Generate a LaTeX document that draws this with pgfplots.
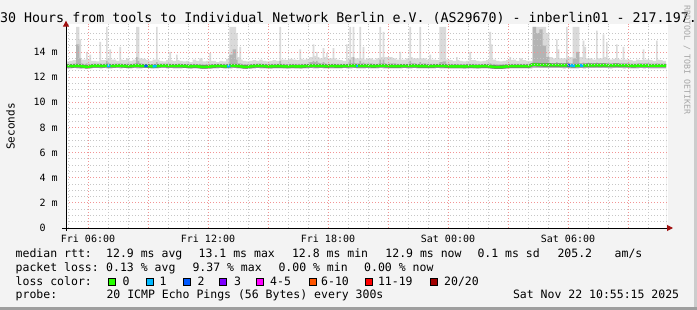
\documentclass[border=0pt]{standalone}
\usepackage{pgfplots}
\pgfplotsset{compat=1.18}
\usepackage{pgfplotstable}
\usetikzlibrary{arrows.meta}
\usepackage{fontspec}
\newfontfamily\mono{DejaVu Sans Mono}
\newcommand\titlefont{\mono\fontsize{13.3bp}{15bp}\selectfont}
\newcommand\legfont{\mono\fontsize{11.5bp}{13bp}\selectfont}
\newcommand\axfont{\mono\fontsize{10bp}{12bp}\selectfont}
\definecolor{bgc}{HTML}{F3F3F3}
\definecolor{gridred}{HTML}{F29494}
\definecolor{gridgray}{HTML}{C6C6C6}
\definecolor{arrowred}{HTML}{A01010}
\definecolor{smokeL}{HTML}{DADADA}
\definecolor{smokeM}{HTML}{B4B4B4}
\definecolor{halo}{HTML}{7A7A7A}
\definecolor{loss0}{HTML}{26FF00}
\definecolor{loss1}{HTML}{00B8FF}
\definecolor{loss2}{HTML}{0059FF}
\definecolor{loss3}{HTML}{7E00FF}
\definecolor{loss4}{HTML}{FF00FF}
\definecolor{loss6}{HTML}{FF5500}
\definecolor{loss11}{HTML}{FF0000}
\definecolor{loss20}{HTML}{A10000}

\pgfplotstableread{
x lo hi h2 md
0 12.70 13.25 13.06 12.89
10 12.69 13.30 13.05 12.90
20 12.71 13.35 13.08 12.88
30 12.70 16.00 14.60 12.91
40 12.68 15.00 13.50 12.90
45 12.68 13.40 13.10 12.88
50 12.72 13.40 13.05 12.86
60 12.70 14.00 13.10 12.82
65 12.70 13.40 13.05 12.83
70 12.69 13.80 13.06 12.84
75 12.69 13.30 13.05 12.87
80 12.71 13.30 13.05 12.90
90 12.72 13.25 13.04 12.91
100 12.70 14.80 13.10 12.90
105 12.70 13.35 13.05 12.90
110 12.71 13.35 13.06 12.89
120 12.69 16.00 13.30 12.92
125 12.69 13.50 13.10 12.91
130 12.70 14.20 13.08 12.90
135 12.70 13.40 13.05 12.90
140 12.72 13.40 13.05 12.89
150 12.71 13.30 13.06 12.91
160 12.70 14.40 13.08 12.92
165 12.70 13.40 13.05 12.91
170 12.72 13.35 13.05 12.90
180 12.70 13.50 13.07 12.88
190 12.69 13.30 13.05 12.87
200 12.71 13.40 13.06 12.90
210 12.70 16.00 13.60 12.93
215 12.70 16.00 13.30 12.92
220 12.70 13.50 13.10 12.91
230 12.71 13.45 13.06 12.89
240 12.72 13.35 13.05 12.90
250 12.70 13.30 13.04 12.88
260 12.69 13.40 13.06 12.86
270 12.70 16.00 13.20 12.88
275 12.70 13.40 13.05 12.89
280 12.71 13.30 13.05 12.90
290 12.72 13.25 13.05 12.92
300 12.70 13.35 13.06 12.91
310 12.71 14.00 13.08 12.90
315 12.71 13.35 13.05 12.90
320 12.70 13.30 13.05 12.89
330 12.69 13.80 13.06 12.90
335 12.69 13.35 13.05 12.90
340 12.70 13.30 13.05 12.91
350 12.71 13.25 13.04 12.89
360 12.70 13.30 13.05 12.88
370 12.68 13.20 13.03 12.86
380 12.69 13.40 13.05 12.87
390 12.70 13.30 13.04 12.88
400 12.68 13.50 13.05 12.84
410 12.66 13.25 13.02 12.81
420 12.67 13.30 13.03 12.82
430 12.68 13.90 13.05 12.84
435 12.68 13.30 13.04 12.85
440 12.69 13.30 13.04 12.87
450 12.70 13.20 13.05 12.89
460 12.71 13.30 13.06 12.90
470 12.70 13.25 13.05 12.88
480 12.69 13.45 13.06 12.86
490 12.70 16.00 13.80 12.90
500 12.71 16.00 14.20 12.92
510 12.70 15.50 13.40 12.90
515 12.70 13.60 13.10 12.89
520 12.69 14.40 13.10 12.88
525 12.69 13.40 13.05 12.86
530 12.67 13.30 13.04 12.83
540 12.66 13.25 13.03 12.81
550 12.68 13.30 13.04 12.84
560 12.70 13.35 13.05 12.88
570 12.71 13.30 13.06 12.90
580 12.70 13.40 13.06 12.91
590 12.70 13.30 13.05 12.90
600 12.69 13.25 13.04 12.87
610 12.68 13.30 13.05 12.86
620 12.69 13.35 13.05 12.87
630 12.70 13.30 13.06 12.88
640 12.70 16.00 13.30 12.89
645 12.70 13.40 13.06 12.88
650 12.69 13.40 13.05 12.87
660 12.68 13.35 13.04 12.85
670 12.69 13.45 13.05 12.86
680 12.70 13.40 13.06 12.88
690 12.69 13.35 13.05 12.86
700 12.68 14.20 13.06 12.85
705 12.68 13.45 13.05 12.86
710 12.69 13.40 13.05 12.87
720 12.70 13.45 13.06 12.89
730 12.71 13.60 13.20 12.90
740 12.70 14.60 13.30 12.91
745 12.70 13.70 13.20 12.91
750 12.70 14.00 13.30 12.90
755 12.70 13.60 13.15 12.90
760 12.71 13.50 13.10 12.91
770 12.70 14.30 13.20 12.89
775 12.70 13.60 13.10 12.89
780 12.69 13.90 13.06 12.88
785 12.69 13.50 13.05 12.88
790 12.70 13.50 13.06 12.89
800 12.70 14.30 13.08 12.90
805 12.70 13.50 13.06 12.89
810 12.69 13.40 13.05 12.88
820 12.70 13.35 13.05 12.87
830 12.71 13.30 13.05 12.89
840 12.70 14.60 13.06 12.90
845 12.70 13.40 13.06 12.90
850 12.70 16.00 13.40 12.91
855 12.70 13.60 13.10 12.91
860 12.71 16.00 13.60 12.92
865 12.71 13.50 13.10 12.91
870 12.70 13.50 13.10 12.90
880 12.69 16.00 13.30 12.89
885 12.69 13.50 13.10 12.89
890 12.70 14.40 13.15 12.90
895 12.70 13.40 13.05 12.90
900 12.71 13.50 13.06 12.91
910 12.70 13.50 13.10 12.90
920 12.69 13.40 13.05 12.88
930 12.70 13.50 13.06 12.89
940 12.71 16.00 13.40 12.91
945 12.71 13.60 13.10 12.91
950 12.70 15.60 13.40 12.92
955 12.70 13.60 13.10 12.91
960 12.69 13.60 13.06 12.90
970 12.70 13.60 13.10 12.89
980 12.70 13.50 13.10 12.88
990 12.69 13.40 13.05 12.87
1000 12.70 14.00 13.06 12.88
1005 12.70 13.40 13.05 12.89
1010 12.71 13.40 13.05 12.90
1020 12.70 13.50 13.06 12.89
1030 12.70 16.00 13.30 12.90
1035 12.70 13.60 13.10 12.90
1040 12.71 13.50 13.10 12.91
1050 12.70 13.50 13.06 12.90
1060 12.69 16.00 13.20 12.88
1065 12.69 13.50 13.05 12.88
1070 12.70 13.50 13.10 12.89
1080 12.70 13.40 13.05 12.88
1090 12.69 13.80 13.06 12.87
1095 12.69 13.40 13.05 12.87
1100 12.70 13.40 13.05 12.88
1110 12.71 13.35 13.05 12.90
1120 12.70 16.00 13.20 12.89
1130 12.70 16.00 13.25 12.90
1140 12.69 13.40 13.05 12.88
1150 12.70 13.35 13.05 12.87
1160 12.69 13.30 13.04 12.86
1170 12.70 13.60 13.05 12.87
1175 12.70 13.35 13.04 12.86
1180 12.69 13.30 13.04 12.86
1190 12.68 13.25 13.04 12.85
1200 12.69 13.30 13.05 12.86
1210 12.70 14.00 13.06 12.88
1215 12.70 13.35 13.05 12.88
1220 12.69 13.35 13.05 12.87
1230 12.68 13.30 13.04 12.85
1240 12.69 13.25 13.04 12.86
1250 12.70 13.30 13.05 12.88
1260 12.70 13.35 13.05 12.89
1270 12.68 15.60 13.10 12.86
1275 12.68 14.60 13.05 12.84
1280 12.66 13.40 13.05 12.82
1290 12.65 13.30 13.02 12.80
1300 12.65 13.25 13.02 12.80
1310 12.66 13.30 13.03 12.81
1320 12.68 13.35 13.04 12.85
1330 12.69 13.60 13.05 12.87
1335 12.69 13.35 13.05 12.87
1340 12.70 13.40 13.05 12.88
1350 12.69 13.30 13.05 12.87
1360 12.70 13.50 13.06 12.88
1370 12.69 13.35 13.05 12.87
1380 12.70 13.30 13.05 12.88
1390 12.70 13.30 13.05 12.88
1400 12.74 16.00 16.00 13.00
1410 12.73 16.00 15.50 12.99
1420 12.72 16.00 15.80 12.98
1430 12.72 16.00 14.50 12.97
1440 12.71 15.50 13.60 12.96
1450 12.72 13.60 13.10 12.97
1460 12.71 13.50 13.08 12.95
1470 12.72 15.00 13.20 12.96
1475 12.72 14.20 13.10 12.96
1480 12.71 13.50 13.10 12.95
1490 12.70 13.50 13.08 12.94
1500 12.71 16.00 13.40 12.95
1505 12.71 13.60 13.10 12.94
1510 12.70 13.60 13.10 12.92
1520 12.69 16.00 13.50 12.90
1530 12.70 16.00 14.00 12.91
1540 12.71 13.60 13.08 12.93
1550 12.70 14.90 13.15 12.92
1555 12.70 14.40 13.10 12.93
1560 12.71 13.50 13.10 12.94
1570 12.72 13.50 13.08 12.95
1580 12.71 13.40 13.06 12.94
1590 12.72 15.70 13.15 12.95
1595 12.72 13.50 13.07 12.95
1600 12.71 13.50 13.07 12.94
1610 12.72 15.40 13.12 12.95
1615 12.72 13.60 13.08 12.95
1620 12.71 14.80 13.10 12.94
1625 12.71 13.50 13.06 12.94
1630 12.70 13.40 13.06 12.93
1640 12.71 13.45 13.07 12.94
1650 12.72 14.60 13.10 12.95
1655 12.72 13.45 13.06 12.95
1660 12.71 13.40 13.06 12.94
1670 12.70 14.40 13.08 12.93
1675 12.70 13.40 13.06 12.93
1680 12.71 13.40 13.06 12.94
1690 12.70 13.35 13.05 12.92
1700 12.69 13.30 13.05 12.90
1710 12.70 13.40 13.06 12.91
1720 12.71 13.35 13.06 12.93
1730 12.70 14.20 13.08 12.92
1735 12.70 13.40 13.06 12.92
1740 12.71 13.40 13.06 12.93
1750 12.70 13.35 13.05 12.92
1760 12.69 13.30 13.05 12.91
1770 12.70 14.90 13.10 12.92
1775 12.70 13.40 13.05 12.92
1780 12.70 13.35 13.05 12.91
1790 12.70 13.30 13.05 12.92
1800 12.70 13.30 13.05 12.92
}\smoke

\begin{document}
\begin{tikzpicture}
\useasboundingbox (0,0) rectangle (697bp,310bp);
\fill[bgc] (0,0) rectangle (697bp,310bp);
\begin{axis}[
  at={(66bp,82bp)}, anchor=south west,
  scale only axis, width=602bp, height=204.3bp,
  xmin=0, xmax=1806, ymin=0, ymax=16.25,
  axis background/.style={fill=white},
  axis on top,
  axis x line=bottom, axis y line=left,
  axis line style={black, line width=1bp},
  x axis line style={-{Triangle[length=6bp,width=6bp,color=arrowred]}, shorten >=-5bp, shorten <=-4bp},
  y axis line style={-{Triangle[length=6bp,width=6bp,color=arrowred]}, shorten >=-3bp, shorten <=-3bp},
  xtick={66,246,...,1686},
  xticklabels={Fri 06:00,,Fri 12:00,,Fri 18:00,,Sat 00:00,,Sat 06:00,},
  minor xtick={6,66,...,1746},
  ytick={0,2,...,14},
  yticklabels={0\hphantom{mm},2 m,4 m,6 m,8 m,10 m,12 m,14 m},
  minor ytick={0.5,1,...,15.5},
  grid=both,
  major grid style={draw=gridred, line width=0.8bp, dash pattern=on 1bp off 2bp},
  minor grid style={draw=gridgray, line width=0.8bp, dash pattern=on 1bp off 2bp},
  tick style={draw=none},
  xticklabel style={font=\axfont, anchor=base, yshift=-12.5bp},
  yticklabel style={font=\axfont, anchor=east, inner sep=0pt, xshift=-6bp},
]
\addplot[fill=smokeL, draw=none, const plot mark left] table[x=x,y=hi]{\smoke} \closedcycle;
\addplot[fill=smokeM, draw=none, const plot mark left] table[x=x,y=h2]{\smoke} \closedcycle;
\addplot[fill=white, draw=none, const plot mark left] table[x=x,y=lo]{\smoke} \closedcycle;
\addplot[halo, line width=3.6bp] table[x=x,y=md]{\smoke};
\addplot[loss0, line width=2.6bp] table[x=x,y=md]{\smoke};
\addplot[loss1, line width=2.6bp] coordinates {(123,12.91) (133,12.90)};
\addplot[loss2, line width=2.6bp] coordinates {(235,12.89) (245,12.90)};
\addplot[loss1, line width=2.6bp] coordinates {(260,12.86) (272,12.88)};
\addplot[loss1, line width=2.6bp] coordinates {(483,12.86) (493,12.90)};
\addplot[loss1, line width=2.6bp] coordinates {(870,12.90) (876,12.90)};
\addplot[loss2, line width=2.6bp] coordinates {(1504,12.95) (1512,12.94)};
\addplot[loss1, line width=2.6bp] coordinates {(1512,12.94) (1527,12.90)};
\addplot[loss1, line width=2.6bp] coordinates {(1542,12.93) (1552,12.92)};
\end{axis}
% title
\node[anchor=base west, inner sep=0pt] at (0bp,287bp) {\titlefont 30 Hours from tools to Individual Network Berlin e.V. (AS29670) - inberlin01 - 217.197.};
% y label
\node[rotate=90, inner sep=0pt, font=\mono\fontsize{11bp}{13bp}\selectfont] at (10.5bp,183.5bp) {Seconds};
% legend
\begin{scope}[every node/.style={anchor=base west, inner sep=0pt, font=\legfont}]
\node at (15.5bp,52.5bp) {median rtt:};
\node at (106bp,52.5bp) {12.9 ms avg};
\node at (198.5bp,52.5bp) {13.1 ms max};
\node at (291.8bp,52.5bp) {12.8 ms min};
\node at (385.2bp,52.5bp) {12.9 ms now};
\node at (477.3bp,52.5bp) {0.1 ms sd};
\node at (557.3bp,52.5bp) {205.2};
\node at (614.5bp,52.5bp) {am/s};
\node at (15.5bp,38.7bp) {packet loss:};
\node at (106bp,38.7bp) {0.13 \% avg};
\node at (192.3bp,38.7bp) {9.37 \% max};
\node at (278.3bp,38.7bp) {0.00 \% min};
\node at (364bp,38.7bp) {0.00 \% now};
\node at (15.5bp,25bp) {loss color:};
\node at (122.3bp,25bp) {0};
\node at (159.5bp,25bp) {1};
\node at (197.3bp,25bp) {2};
\node at (234bp,25bp) {3};
\node at (270bp,25bp) {4-5};
\node at (321bp,25bp) {6-10};
\node at (377.8bp,25bp) {11-19};
\node at (444bp,25bp) {20/20};
\node at (15.5bp,11.5bp) {probe:};
\node at (106.3bp,11.5bp) {20 ICMP Echo Pings (56 Bytes) every 300s};
\node at (512.8bp,11.5bp) {Sat Nov 22 10:55:15 2025};
\end{scope}
\foreach \bx/\bc in {108/loss0,145.7/loss1,182.7/loss2,219.3/loss3,256/loss4,308.7/loss6,365/loss11,430/loss20}{
  \filldraw[fill=\bc, draw=black, line width=1bp] (\bx bp+0.5bp,24bp) rectangle (\bx bp+7.5bp,31bp);
}
% watermark
\node[rotate=-90, inner sep=0pt, text=black!35, font=\mono\fontsize{8.3bp}{10bp}\selectfont] at (687bp,250bp) {RRDTOOL / TOBI OETIKER};
% frame
\fill[black!20] (694bp,0) rectangle (697bp,310bp);
\fill[black!38] (0,0) rectangle (697bp,3bp);
\end{tikzpicture}
\end{document}
